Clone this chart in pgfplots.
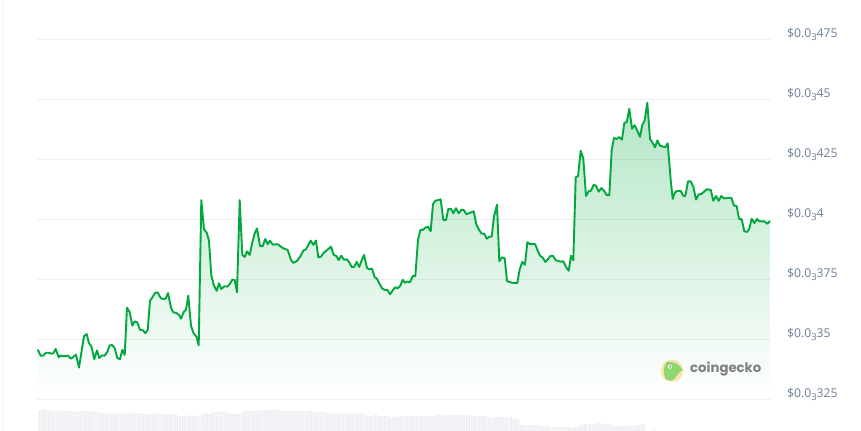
\documentclass[border=0pt]{standalone}
\usepackage{pgfplots}
\usepackage{pgfplotstable}
\usepackage{fontspec}
\setmainfont{Open Sans}
\newfontfamily\logofont{Poppins}
\pgfplotsset{compat=1.18}
\definecolor{linegreen}{HTML}{00A83E}
\definecolor{fillgreen}{HTML}{B4E6C6}
\definecolor{ticktext}{HTML}{6B7F99}
\definecolor{volbar}{HTML}{EEF0F4}
\definecolor{logoyellow}{HTML}{FBE3A8}
\definecolor{logogreen}{HTML}{8FD86F}
\pgfplotstableread{
x y
37.7 3.457
40.7 3.432
43.3 3.432
46.0 3.444
48.7 3.444
51.3 3.440
53.3 3.442
55.7 3.460
58.7 3.425
60.7 3.433
63.3 3.429
68.0 3.432
71.0 3.419
76.0 3.436
79.0 3.382
84.0 3.513
86.7 3.522
89.0 3.484
91.3 3.472
94.3 3.417
97.0 3.454
99.3 3.422
102.0 3.433
104.7 3.432
107.3 3.448
109.7 3.475
112.3 3.476
114.7 3.463
117.3 3.421
120.0 3.418
122.3 3.456
124.7 3.435
127.0 3.632
129.7 3.613
132.3 3.557
134.7 3.575
137.3 3.571
140.0 3.540
142.7 3.538
145.3 3.526
147.7 3.538
150.0 3.661
152.7 3.677
155.3 3.695
157.7 3.695
160.7 3.672
163.3 3.668
165.7 3.670
168.0 3.693
171.0 3.632
173.3 3.613
176.7 3.609
179.0 3.602
181.0 3.586
183.7 3.614
186.0 3.624
188.3 3.682
191.0 3.557
193.3 3.528
196.7 3.509
198.7 3.475
201.3 4.081
204.0 3.959
206.7 3.945
209.0 3.912
211.3 3.768
213.7 3.727
216.7 3.702
219.0 3.734
221.3 3.710
224.3 3.721
227.3 3.720
230.0 3.732
232.3 3.749
234.7 3.748
237.0 3.696
239.7 4.081
242.3 3.852
244.7 3.844
247.0 3.867
249.7 3.852
252.0 3.898
254.7 3.942
257.0 3.963
260.0 3.889
262.7 3.889
265.3 3.919
267.7 3.897
270.0 3.912
272.7 3.895
277.7 3.897
282.7 3.881
287.7 3.873
291.0 3.831
293.3 3.819
296.7 3.826
300.0 3.844
303.3 3.870
306.0 3.876
310.7 3.912
313.3 3.894
316.0 3.912
318.3 3.842
321.0 3.845
323.7 3.861
328.7 3.878
331.0 3.887
333.7 3.852
336.3 3.848
338.7 3.831
341.3 3.849
344.0 3.832
346.7 3.834
349.0 3.823
351.7 3.802
354.0 3.802
356.7 3.823
359.3 3.802
361.7 3.830
364.0 3.852
367.0 3.798
369.3 3.792
372.0 3.795
374.7 3.759
377.0 3.753
379.3 3.734
382.0 3.713
384.7 3.706
387.3 3.707
390.0 3.688
395.0 3.717
397.7 3.713
400.3 3.724
402.7 3.748
405.0 3.736
407.3 3.741
410.0 3.738
412.7 3.764
415.3 3.764
418.0 3.914
420.3 3.956
423.0 3.957
425.3 3.966
428.0 3.970
430.7 3.951
433.0 4.065
435.3 4.078
440.7 4.084
443.3 3.998
446.0 3.998
448.3 4.044
451.0 4.044
453.3 4.026
456.0 4.047
458.7 4.026
461.3 4.040
463.7 4.040
466.3 4.022
473.7 4.034
476.3 3.980
478.7 3.960
481.3 3.942
484.3 3.940
486.7 3.920
489.3 3.928
491.7 3.928
494.0 4.012
497.0 4.062
499.3 3.826
502.0 3.842
504.7 3.838
507.0 3.743
512.0 3.736
517.3 3.735
519.7 3.792
522.3 3.823
525.0 3.811
527.3 3.905
530.0 3.897
535.0 3.898
537.3 3.874
540.0 3.849
542.7 3.841
545.3 3.823
548.0 3.834
550.3 3.848
553.0 3.848
555.7 3.830
560.7 3.824
563.3 3.826
566.0 3.802
568.7 3.786
571.0 3.849
573.3 3.830
575.7 4.176
578.0 4.181
580.7 4.287
583.3 4.254
586.0 4.098
588.7 4.118
591.0 4.120
593.7 4.145
596.0 4.141
598.7 4.116
601.3 4.131
604.0 4.120
606.7 4.102
609.3 4.101
611.7 4.290
614.0 4.340
616.7 4.336
619.3 4.344
622.0 4.333
624.3 4.403
626.7 4.406
629.3 4.462
632.0 4.379
634.7 4.393
637.3 4.370
640.0 4.345
642.3 4.394
644.7 4.414
647.3 4.487
650.0 4.336
652.3 4.322
655.0 4.301
657.3 4.330
660.0 4.308
665.3 4.301
667.7 4.318
670.7 4.165
672.7 4.086
675.0 4.113
677.3 4.120
680.7 4.119
683.3 4.099
685.3 4.098
688.0 4.159
690.7 4.159
693.3 4.137
696.0 4.083
698.7 4.105
701.3 4.106
706.7 4.126
710.7 4.124
713.3 4.078
716.0 4.098
718.7 4.078
721.3 4.098
724.0 4.088
731.3 4.091
734.0 4.058
736.7 4.056
739.0 4.003
741.7 4.001
744.3 3.951
747.0 3.948
749.3 3.962
751.7 4.003
754.3 3.985
757.0 4.002
759.3 3.992
764.7 3.992
767.3 3.982
770.0 3.994
}\pricetable
\pgfplotstableread{
h
21
21
21
21
21
20
20
21
20.5
20
20
20
20
20
20
20
19
20
20
20
19.5
19.5
20
19
19
18
18
17.7
17.7
17.7
17.7
17.7
17.7
17.7
17.7
17.7
17.7
17.7
18.5
18.5
18
18
17.7
17
17
17
17
17.7
17.7
17
17
17
17
17
17
17.7
16
15
15
16
15
15
16
15
15
14
17
17.7
17.7
17
19
19
19
20
20
20
18
18
17
17
17
17
19
20
20
20
20
20
20.5
21
21
21
21
21
21
21
21
21
20.5
20
20
20
20
20
20
20
20
20
20
20
20
20
19
19
19
19
18
17.7
17.7
17.7
17.7
17.7
17.7
17.7
17.7
17.7
17.7
17.7
17.7
17
18
18
16
15
15
15.5
16
16
15
15
15
15
14
14
15
14
14
15
15
15
15
15
15
15
15
15
15
15
15
15
15
16
16
15
16
16
16
16
16
16
16
16
16
15
16
16
15
15
15
15
15
14.5
14
13
13
14
14
14
14
14
14
15
13
12
12
6
6
6
6
6
6
6
6
6
5
5
5
4
4
4
4
4
4
4
4
4
3
4
4
6
6
7
6
7
7
7
8
8
7
7
7
7
5
5
5
5
5
5
5
5
5
6
6
6
7
7
0
0
0
1
}\volumetable
\newcommand{\subthree}{\raisebox{-0.22em}{\fontsize{9.5}{10}\selectfont 3}}
\begin{document}
\begin{tikzpicture}
\path[use as bounding box] (-37bp,-31.75bp) rectangle (824bp,399.25bp);
\fill[white] (-37bp,-31.75bp) rectangle (824bp,399.25bp);
\draw[color=black!5,line width=1.2bp] (-34.3bp,-31.75bp) -- (-34.3bp,399.25bp);
\begin{axis}[
  at={(0,0)},anchor=south west,
  scale only axis,width=734bp,height=359.5bp,
  xmin=37,xmax=771,ymin=3.25,ymax=4.75,
  axis x line=none,
  axis y line*=right,
  y axis line style={draw=none},
  major tick style={draw=none},
  axis on top,
  ymajorgrids,
  grid style={draw=black,draw opacity=0.06,line width=0.9bp},
  ytick={3.25,3.5,3.75,4,4.25,4.5,4.75},
  yticklabels={\$0.0\subthree325,\$0.0\subthree35,\$0.0\subthree375,\$0.0\subthree4,\$0.0\subthree425,\$0.0\subthree45,\$0.0\subthree475},
  yticklabel style={anchor=west,font=\fontsize{12.2}{14}\selectfont,text=ticktext,yshift=5bp,xshift=16bp,inner sep=0pt},
  clip=false,
  major tick length=0pt,
]
\addplot[draw=none,top color=fillgreen,bottom color=white,forget plot] table[x=x,y=y] {\pricetable} \closedcycle;
\addplot[color=linegreen,line width=1.9bp,line join=round,no markers,forget plot] table[x=x,y=y] {\pricetable};
\end{axis}
\begin{axis}[
  at={(0,-31.75bp)},anchor=south west,
  scale only axis,width=734bp,height=22bp,
  xmin=37,xmax=771,ymin=0,ymax=22,
  axis lines=none,
  clip=true,
]
\addplot[ybar,bar width=1.9bp,fill=volbar,draw=none,forget plot] table[x expr=\coordindex*2.47+39.2,y=h] {\volumetable};
\end{axis}
% logo
\begin{scope}[shift={(635bp,28.5bp)},x=1bp,y=1bp]
\fill[color=logoyellow] (0,0) circle (11);
\begin{scope}
\clip (0,0) circle (11);
\fill[color=logogreen] (-5,9) .. controls (2,10) and (8,6) .. (10.5,1) -- (7,-2) .. controls (4,-5) and (3,-9) .. (-1,-10) -- (-6,-9) .. controls (-9,-4) and (-9,5) .. (-5,9) -- cycle;
\end{scope}
\fill[white] (-2,4) circle (2);
\fill[gray] (-2,4) circle (1);
\node[anchor=west,inner sep=0pt,font=\logofont\bfseries\fontsize{13.3}{15}\selectfont,text=black!50] at (18,2) {coingecko};
\end{scope}
\end{tikzpicture}
\end{document}
